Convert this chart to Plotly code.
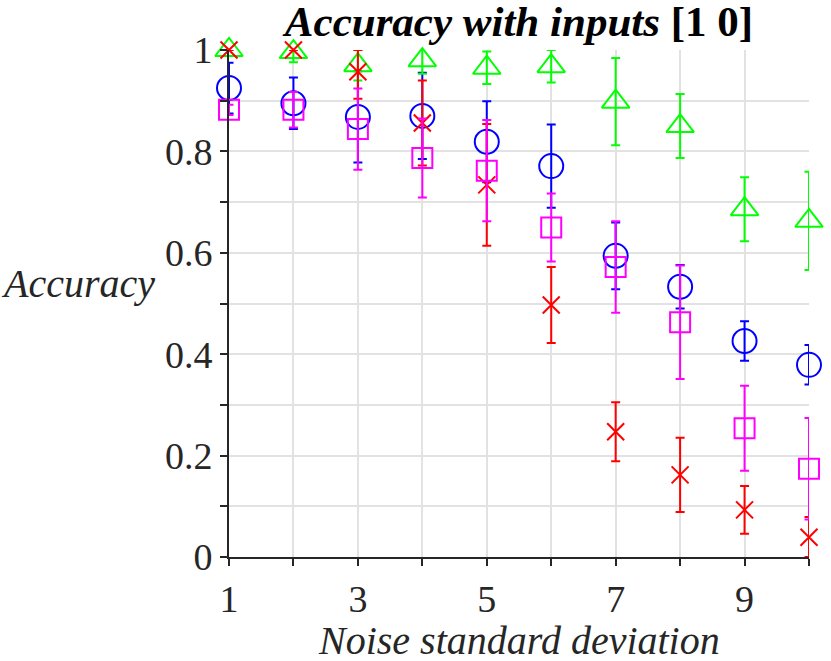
import plotly.graph_objects as go

noise_sd = [1, 2, 3, 4, 5, 6, 7, 8, 9, 10]

acc_triangle = [1.0, 0.996, 0.97, 0.98, 0.965, 0.968, 0.898, 0.85, 0.686, 0.663]
err_triangle = [0.0, 0.02, 0.03, 0.027, 0.032, 0.032, 0.086, 0.063, 0.063, 0.097]

acc_circle = [0.925, 0.895, 0.868, 0.87, 0.819, 0.771, 0.594, 0.533, 0.426, 0.379]
err_circle = [0.05, 0.051, 0.09, 0.085, 0.08, 0.082, 0.066, 0.043, 0.039, 0.039]

acc_square = [0.882, 0.882, 0.844, 0.787, 0.762, 0.65, 0.572, 0.463, 0.254, 0.174]
err_square = [0.01, 0.035, 0.08, 0.078, 0.1, 0.067, 0.09, 0.112, 0.084, 0.1]

acc_cross = [1.0, 1.0, 0.957, 0.856, 0.734, 0.497, 0.247, 0.162, 0.093, 0.039]
err_cross_up = [0.0, 0.0, 0.043, 0.084, 0.12, 0.075, 0.058, 0.073, 0.047, 0.04]
err_cross_down = [0.0, 0.0, 0.053, 0.084, 0.12, 0.075, 0.058, 0.073, 0.047, 0.039]

x_ticks = noise_sd
x_ticktext = ["1", "", "3", "", "5", "", "7", "", "9", ""]
y_ticks = [0, 0.1, 0.2, 0.3, 0.4, 0.5, 0.6, 0.7, 0.8, 0.9, 1.0]
y_ticktext = ["0", "", "0.2", "", "0.4", "", "0.6", "", "0.8", "", "1"]

FONT = "Liberation Serif"
AX = "#262626"


def series(y, err, color, symbol, size, err_minus=None):
    e = dict(type="data", array=err, color=color, thickness=2, width=4.5, visible=True)
    if err_minus is not None:
        e["symmetric"] = False
        e["arrayminus"] = err_minus
    return go.Scatter(
        x=noise_sd,
        y=y,
        mode="markers",
        marker=dict(symbol=symbol, size=size, color=color,
                    line=dict(color=color, width=2)),
        error_y=e,
        cliponaxis=False,
        showlegend=False,
        hoverinfo="skip",
    )


fig = go.Figure()
fig.add_trace(series(acc_circle, err_circle, "#0000ff", "circle-open", 24))
fig.add_trace(series(acc_triangle, err_triangle, "#00ff00", "triangle-up-open", 24))
fig.add_trace(series(acc_cross, err_cross_up, "#ff0000", "x-thin-open", 17, err_cross_down))
fig.add_trace(series(acc_square, err_square, "#ff00ff", "square-open", 20))

fig.update_layout(
    width=831,
    height=661,
    margin=dict(l=229, r=22, t=50, b=104),
    paper_bgcolor="white",
    plot_bgcolor="white",
    font=dict(family=FONT, color=AX),
    title=dict(
        text="<b><i>Accuracy with inputs</i> [1 0]</b>",
        x=0.5 * (229 + 809) / 831,
        xanchor="center",
        y=1 - 21 / 661,
        yanchor="middle",
        font=dict(family=FONT, size=43, color="black"),
    ),
)

axis_style = dict(
    ticks="outside",
    ticklen=7,
    tickwidth=1.5,
    tickcolor=AX,
    showline=True,
    linecolor=AX,
    linewidth=2,
    showgrid=True,
    gridcolor="#e2e2e2",
    gridwidth=1.5,
    zeroline=False,
    tickfont=dict(family=FONT, size=38, color=AX),
)
fig.update_xaxes(range=[1, 10], tickvals=x_ticks, ticktext=x_ticktext, **axis_style)
fig.update_yaxes(range=[0, 1], tickvals=y_ticks, ticktext=y_ticktext, **axis_style)

fig.add_annotation(
    text="<i>Noise standard deviation</i>",
    xref="paper", yref="paper",
    x=0.5, y=(557 - 640) / 507,
    xanchor="center", yanchor="middle",
    showarrow=False,
    font=dict(family=FONT, size=40, color=AX),
)
fig.add_annotation(
    text="<i>Accuracy</i>",
    xref="paper", yref="paper",
    x=(157 - 229) / 580, y=(557 - 283) / 507,
    xanchor="right", yanchor="middle",
    showarrow=False,
    font=dict(family=FONT, size=40, color=AX),
)

# drop the page's default body margin so the figure sits at the window corner
fig.write_html(
    "out.html",
    config={"displayModeBar": False},
    post_script="document.body.style.margin='0';",
)
